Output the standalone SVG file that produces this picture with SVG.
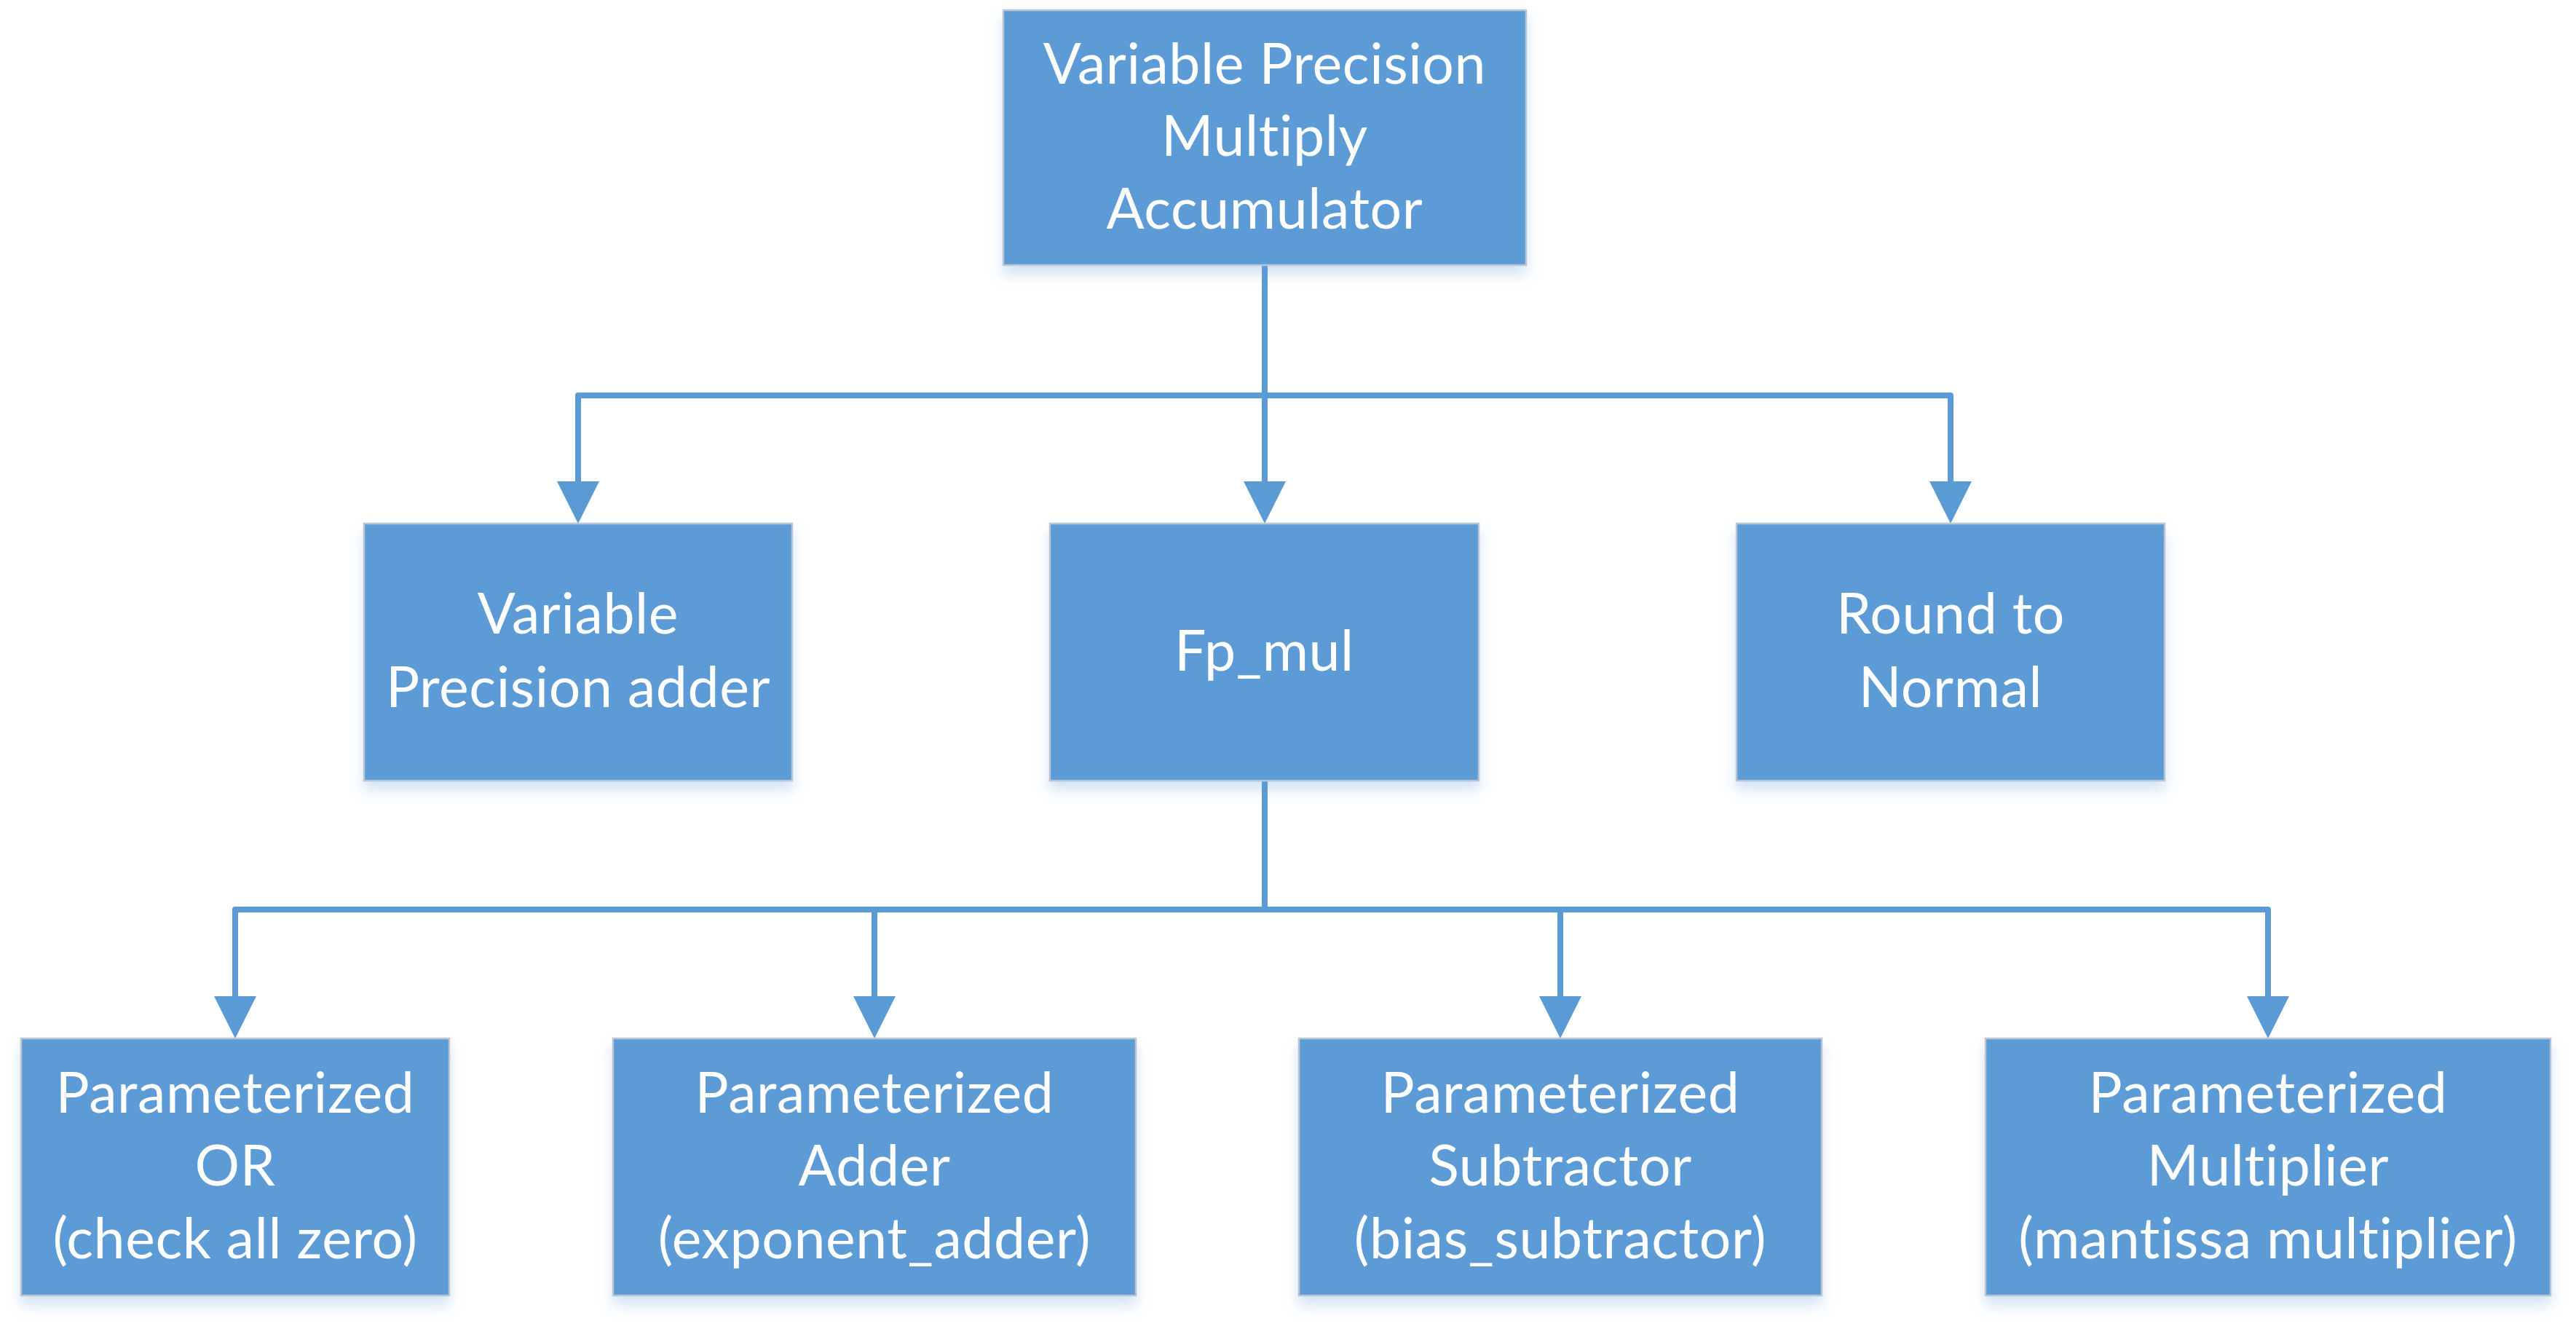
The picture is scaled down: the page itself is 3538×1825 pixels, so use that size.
<svg xmlns="http://www.w3.org/2000/svg" width="3538" height="1825" viewBox="0 0 3538 1825">
<style>
.box{fill:#5B9BD5;stroke:#B9C5D3;stroke-width:2.5;filter:url(#sh)}
.lbl{font-family:Lato,"Open Sans","Liberation Sans",sans-serif;font-size:77px;letter-spacing:0.6px;fill:#FFFFFF;text-anchor:middle}
.con{fill:none;stroke:#5B9BD5;stroke-width:8;stroke-linejoin:round;marker-end:url(#arr)}
</style>
<defs>
<filter id="sh" x="-10%" y="-10%" width="120%" height="130%">
<feDropShadow dx="0" dy="12" stdDeviation="9" flood-color="#5B9BD5" flood-opacity="0.28"/>
</filter>
<marker id="arr" markerUnits="userSpaceOnUse" viewBox="0 0 58 58" markerWidth="58" markerHeight="58" refX="6" refY="29" orient="auto">
<path d="M0,0 L58,29 L0,58 Z" fill="#5B9BD5"/>
</marker>
</defs>
<rect width="3538" height="1825" fill="#FFFFFF"/>
<g id="connectors">
<path class="con" d="M1737,364 V667"/>
<path class="con" d="M1737,543 H794 V667"/>
<path class="con" d="M1737,543 H2679 V667"/>
<path class="con" d="M1737,1072 V1249 H323 V1374"/>
<path class="con" d="M1737,1249 H1201 V1374"/>
<path class="con" d="M1737,1249 H2143 V1374"/>
<path class="con" d="M1737,1249 H3115 V1374"/>
</g>
<g id="node-mac">
<rect class="box" x="1378" y="14" width="718" height="350"/>
<text class="lbl" x="1737" y="115">Variable Precision</text>
<text class="lbl" x="1737" y="214">Multiply</text>
<text class="lbl" x="1737" y="314">Accumulator</text>
</g>
<g id="node-vpadder">
<rect class="box" x="500" y="719" width="588" height="353"/>
<text class="lbl" x="794" y="870">Variable</text>
<text class="lbl" x="794" y="971">Precision adder</text>
</g>
<g id="node-fpmul">
<rect class="box" x="1442" y="719" width="589" height="353"/>
<text class="lbl" x="1736.5" y="921">Fp_mul</text>
</g>
<g id="node-round">
<rect class="box" x="2385" y="719" width="588" height="353"/>
<text class="lbl" x="2679" y="870">Round to</text>
<text class="lbl" x="2679" y="971">Normal</text>
</g>
<g id="node-or">
<rect class="box" x="29" y="1426" width="588" height="353"/>
<text class="lbl" x="323" y="1528">Parameterized</text>
<text class="lbl" x="323" y="1628">OR</text>
<text class="lbl" x="323" y="1728">(check all zero)</text>
</g>
<g id="node-adder">
<rect class="box" x="842" y="1426" width="718" height="353"/>
<text class="lbl" x="1201" y="1528">Parameterized</text>
<text class="lbl" x="1201" y="1628">Adder</text>
<text class="lbl" x="1201" y="1728">(exponent_adder)</text>
</g>
<g id="node-sub">
<rect class="box" x="1784" y="1426" width="718" height="353"/>
<text class="lbl" x="2143" y="1528">Parameterized</text>
<text class="lbl" x="2143" y="1628">Subtractor</text>
<text class="lbl" x="2143" y="1728">(bias_subtractor)</text>
</g>
<g id="node-mult">
<rect class="box" x="2727" y="1426" width="776" height="353"/>
<text class="lbl" x="3115" y="1528">Parameterized</text>
<text class="lbl" x="3115" y="1628">Multiplier</text>
<text class="lbl" x="3115" y="1728">(mantissa multiplier)</text>
</g>
</svg>
